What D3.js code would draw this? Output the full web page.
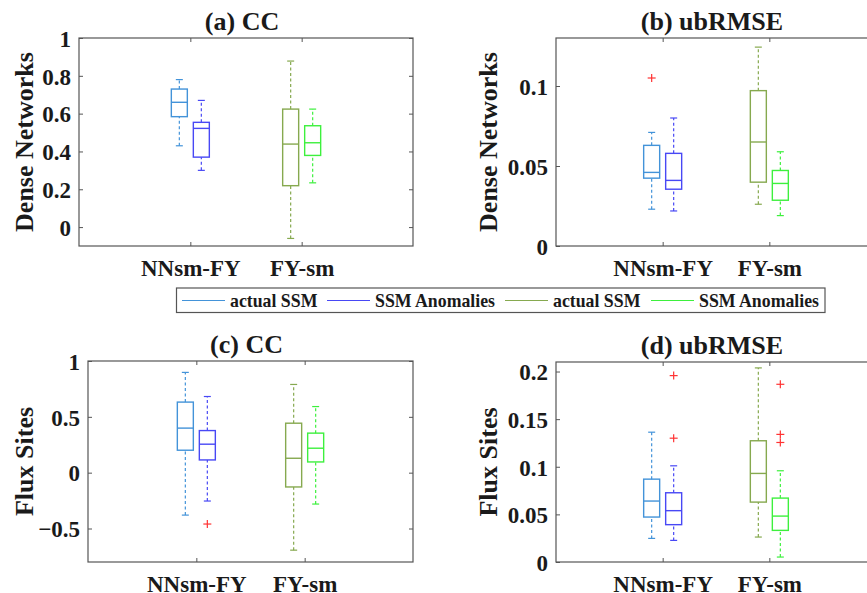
<!DOCTYPE html>
<html lang="en">
<head>
<meta charset="utf-8">
<title>CC and ubRMSE box plots</title>
<script src="https://d3js.org/d3.v7.min.js"></script>
<style>
  body { margin: 0; background: #fff; }
  text { font-family: "Liberation Serif", "Times New Roman", serif; font-weight: bold; fill: #1a1a1a; }
</style>
</head>
<body>
<script>
// categories and series
var categories = ["NNsm-FY", "FY-sm"];
var seriesNames = ["actual SSM", "SSM Anomalies"];
var panelTitles = ["(a) CC", "(b) ubRMSE", "(c) CC", "(d) ubRMSE"];
var rowLabels = ["Dense Networks", "Flux Sites"];

// box stats: [lower whisker, Q1, median, Q3, upper whisker]
// order: NNsm-FY actual, NNsm-FY anomalies, FY-sm actual, FY-sm anomalies
var ccDense = [[0.43, 0.584, 0.66, 0.73, 0.78], [0.30, 0.37, 0.522, 0.554, 0.67],
               [-0.06, 0.219, 0.439, 0.624, 0.878], [0.234, 0.379, 0.446, 0.536, 0.624]];
var ccDenseOut = [[], [], [], []];
var rmseDense = [[0.023, 0.0424, 0.046, 0.0629, 0.071], [0.0219, 0.0355, 0.041, 0.0579, 0.080],
                 [0.0261, 0.0399, 0.065, 0.0971, 0.1243], [0.019, 0.0286, 0.0391, 0.0472, 0.0589]];
var rmseDenseOut = [[0.105], [], [], []];
var ccFlux = [[-0.38, 0.201, 0.399, 0.632, 0.898], [-0.254, 0.114, 0.255, 0.377, 0.682],
              [-0.694, -0.128, 0.129, 0.443, 0.79], [-0.281, 0.096, 0.219, 0.354, 0.592]];
var ccFluxOut = [[], [-0.46], [], []];
var rmseFlux = [[0.0248, 0.0472, 0.064, 0.087, 0.1363], [0.0227, 0.0392, 0.0539, 0.0727, 0.101],
                [0.0262, 0.0629, 0.093, 0.1273, 0.2038], [0.0052, 0.0332, 0.0482, 0.0671, 0.0958]];
var rmseFluxOut = [[], [0.1957, 0.130], [], [0.1866, 0.134, 0.1255]];

// y ticks
var ccDenseTicks = [0, 0.2, 0.4, 0.6, 0.8, 1];
var rmseDenseTicks = [0, 0.05, 0.1];
var ccFluxTicks = [-0.5, 0, 0.5, 1];
var rmseFluxTicks = [0, 0.05, 0.1, 0.15, 0.2];

var colors = ["#4393d9", "#4848f5", "#86a94f", "#3df03d"];

var width = 867, height = 593;
var svg = d3.select("body").append("svg")
    .attr("width", width)
    .attr("height", height);

var panels = [
  {x: 79, y: 38, w: 334, h: 208, dom: [-0.1, 1], ticks: ccDenseTicks, stats: ccDense, out: ccDenseOut, row: 0, labelX: 24},
  {x: 556, y: 38, w: 320, h: 208, dom: [0, 0.13], ticks: rmseDenseTicks, stats: rmseDense, out: rmseDenseOut, row: 0, labelX: 488},
  {x: 88, y: 361, w: 325, h: 201, dom: [-0.8, 1], ticks: ccFluxTicks, stats: ccFlux, out: ccFluxOut, row: 1, labelX: 24},
  {x: 556, y: 362, w: 320, h: 200, dom: [0, 0.21], ticks: rmseFluxTicks, stats: rmseFlux, out: rmseFluxOut, row: 1, labelX: 488}
];

var axisColor = "#555";

panels.forEach(function(p, pi) {
  var g = svg.append("g").attr("transform", "translate(" + p.x + "," + p.y + ")");

  var x = d3.scaleLinear().domain([0, 3]).range([0, p.w]);
  var y = d3.scaleLinear().domain(p.dom).range([p.h, 0]);
  var off = d3.scalePoint().domain(seriesNames).range([-11, 11]);
  var bw = 16;

  // axes (ticks inward, MATLAB style box)
  var yAx = g.append("g").call(d3.axisLeft(y).tickValues(p.ticks).tickSize(-4).tickPadding(8)
      .tickFormat(d3.format("~g")));
  g.append("g").attr("transform", "translate(" + p.w + ",0)")
      .call(d3.axisRight(y).tickValues(p.ticks).tickSize(-4).tickFormat(""));
  var xAx = g.append("g").attr("transform", "translate(0," + p.h + ")")
      .call(d3.axisBottom(x).tickValues([1, 2]).tickSize(-4).tickPadding(14)
        .tickFormat(function(d) { return categories[d - 1]; }));
  g.append("g").call(d3.axisTop(x).tickValues([1, 2]).tickSize(-4).tickFormat(""));
  g.selectAll(".domain").remove();
  g.selectAll(".tick line").attr("stroke", axisColor);
  g.selectAll(".tick text").attr("font-size", 23).attr("fill", "#1a1a1a")
      .style("font-family", "'Liberation Serif', 'Times New Roman', serif").style("font-weight", "bold");
  yAx.selectAll(".tick text").attr("dy", "0.36em");

  g.append("rect").attr("width", p.w).attr("height", p.h)
      .attr("fill", "none").attr("stroke", axisColor).attr("stroke-width", 1.2);

  // boxes
  p.stats.forEach(function(s, i) {
    var ci = Math.floor(i / 2), si = i % 2;
    var cx = x(ci + 1) + off(seriesNames[si]);
    var col = colors[i];
    var bg = g.append("g").attr("stroke", col).attr("fill", "none");
    bg.append("line").attr("x1", cx).attr("x2", cx).attr("y1", y(s[3])).attr("y2", y(s[4]))
        .attr("stroke-dasharray", "3,2.5").attr("stroke-width", 1.2);
    bg.append("line").attr("x1", cx).attr("x2", cx).attr("y1", y(s[0])).attr("y2", y(s[1]))
        .attr("stroke-dasharray", "3,2.5").attr("stroke-width", 1.2);
    [s[0], s[4]].forEach(function(v) {
      bg.append("line").attr("x1", cx - 3.5).attr("x2", cx + 3.5).attr("y1", y(v)).attr("y2", y(v))
          .attr("stroke-width", 1.2);
    });
    bg.append("rect").attr("x", cx - bw / 2).attr("y", y(s[3])).attr("width", bw)
        .attr("height", y(s[1]) - y(s[3])).attr("stroke-width", 1.4);
    bg.append("line").attr("x1", cx - bw / 2).attr("x2", cx + bw / 2).attr("y1", y(s[2])).attr("y2", y(s[2]))
        .attr("stroke-width", 1.4);
    p.out[i].forEach(function(v) {
      var og = g.append("g").attr("stroke", "#ff3333").attr("stroke-width", 1.2);
      og.append("line").attr("x1", cx - 4).attr("x2", cx + 4).attr("y1", y(v)).attr("y2", y(v));
      og.append("line").attr("x1", cx).attr("x2", cx).attr("y1", y(v) - 4).attr("y2", y(v) + 4);
    });
  });

  // title
  g.append("text").attr("x", p.w / 2 - 4).attr("y", -8).attr("text-anchor", "middle")
      .attr("font-size", 26).text(panelTitles[pi]);

  // row label
  svg.append("text")
      .attr("transform", "translate(" + (p.labelX + 9) + "," + (p.y + p.h / 2) + ") rotate(-90)")
      .attr("text-anchor", "middle").attr("font-size", 26).text(rowLabels[p.row]);
});

// legend
var legend = svg.append("g");
legend.append("rect").attr("x", 176.5).attr("y", 288).attr("width", 648.5).attr("height", 24.5)
    .attr("fill", "#fff").attr("stroke", axisColor).attr("stroke-width", 1.2);
var legendItems = [
  {x: 182, label: seriesNames[0]}, {x: 327, label: seriesNames[1]},
  {x: 505, label: seriesNames[0]}, {x: 651, label: seriesNames[1]}
];
legendItems.forEach(function(d, i) {
  legend.append("line").attr("x1", d.x).attr("x2", d.x + 43).attr("y1", 300.5).attr("y2", 300.5)
      .attr("stroke", colors[i]).attr("stroke-width", 1.2);
  legend.append("text").attr("x", d.x + 48).attr("y", 306.5).attr("font-size", 17.8).text(d.label);
});
</script>
</body>
</html>
